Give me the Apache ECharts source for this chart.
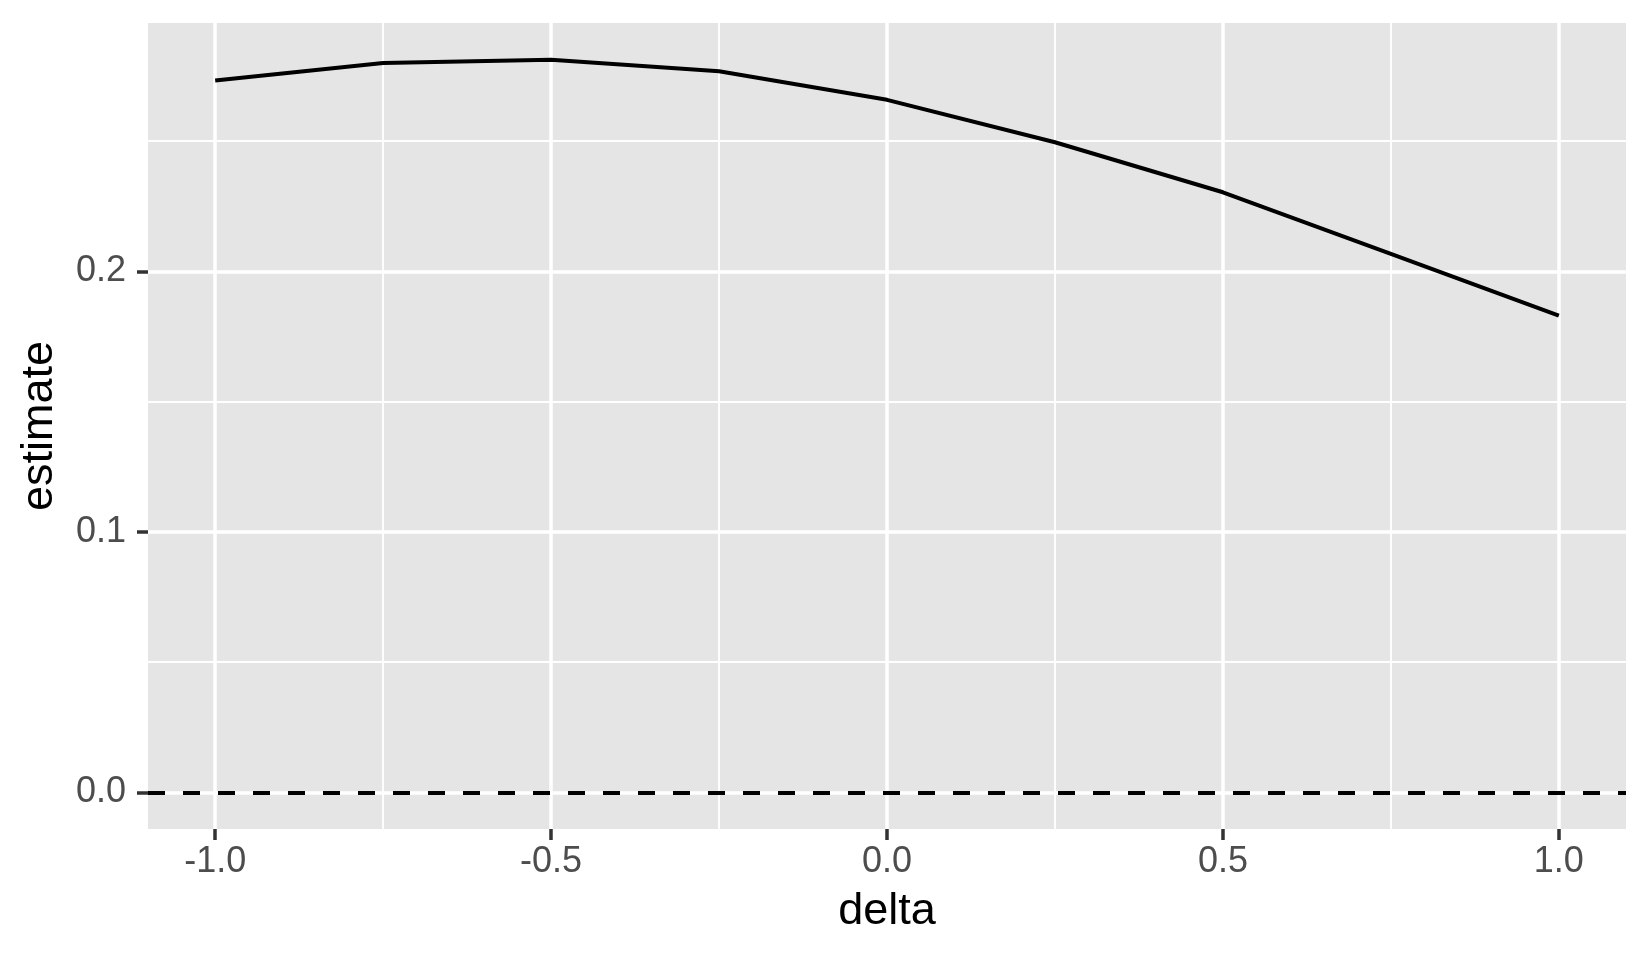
<!DOCTYPE html>
<html style="height: 100%">
    <head>
        <meta charset="utf-8">
    </head>
    <body style="height: 100%; margin: 0; background: #fff">
        <div id="container" style="width: 1650px; height: 960px"></div>

        <script type="text/javascript" src="https://cdn.jsdelivr.net/npm/echarts@6/dist/echarts.min.js"></script>
        <script type="text/javascript">

// data
var delta = [-1.0, -0.75, -0.5, -0.25, 0.0, 0.25, 0.5, 0.75, 1.0];
var estimate = [0.2733, 0.2800, 0.2813, 0.2769, 0.2659, 0.2496, 0.2304, 0.2068, 0.1830];

// axis ticks
var xMajor = [-1.0, -0.5, 0.0, 0.5, 1.0];
var xMinor = [-0.75, -0.25, 0.25, 0.75];
var yMajor = [0.0, 0.1, 0.2];
var yMinor = [0.05, 0.15, 0.25];

var dom = document.getElementById("container");
var myChart = echarts.init(dom);

var font = '"Liberation Sans", Arial, Helvetica, sans-serif';
var majorStyle = { color: '#ffffff', width: 3.5, type: 'solid' };
var minorStyle = { color: '#ffffff', width: 1.8, type: 'solid' };

var gridLines = []
    .concat(xMinor.map(v => ({ xAxis: v, lineStyle: minorStyle })))
    .concat(yMinor.map(v => ({ yAxis: v, lineStyle: minorStyle })))
    .concat(xMajor.map(v => ({ xAxis: v, lineStyle: majorStyle })))
    .concat(yMajor.map(v => ({ yAxis: v, lineStyle: majorStyle })));

var tickStyle = {
    show: true,
    length: 11,
    lineStyle: { color: '#333333', width: 3.5 }
};

var option = {
    animation: false,
    grid: {
        left: 148,
        top: 23,
        width: 1478,
        height: 806,
        show: true,
        backgroundColor: '#E5E5E5',
        borderWidth: 0
    },
    xAxis: {
        type: 'value',
        min: -1.1,
        max: 1.1,
        name: 'delta',
        nameLocation: 'middle',
        nameGap: 60,
        nameTextStyle: { fontFamily: font, fontSize: 45, color: '#000' },
        axisLine: { show: true, onZero: false, lineStyle: { color: '#E5E5E5', width: 0.01, opacity: 0 } },
        splitLine: { show: false },
        axisTick: Object.assign({ customValues: xMajor }, tickStyle),
        axisLabel: {
            customValues: xMajor,
            margin: 15,
            fontFamily: font,
            fontSize: 36,
            color: '#4D4D4D',
            formatter: v => v.toFixed(1)
        }
    },
    yAxis: {
        type: 'value',
        min: -0.01407,
        max: 0.2954,
        name: 'estimate',
        nameLocation: 'middle',
        nameGap: 86,
        nameRotate: 90,
        nameTextStyle: { fontFamily: font, fontSize: 45, color: '#000' },
        axisLine: { show: true, onZero: false, lineStyle: { color: '#E5E5E5', width: 0.01, opacity: 0 } },
        splitLine: { show: false },
        axisTick: Object.assign({ customValues: yMajor }, tickStyle),
        axisLabel: {
            customValues: yMajor,
            margin: 22,
            fontFamily: font,
            fontSize: 36,
            color: '#4D4D4D',
            formatter: v => v.toFixed(1)
        }
    },
    series: [
        {
            // panel grid lines
            type: 'line',
            data: [],
            silent: true,
            markLine: {
                silent: true,
                symbol: ['none', 'none'],
                label: { show: false },
                data: gridLines
            }
        },
        {
            // zero reference line
            type: 'line',
            data: [],
            zlevel: 1,
            silent: true,
            markLine: {
                silent: true,
                symbol: ['none', 'none'],
                label: { show: false },
                lineStyle: { color: '#000', width: 4, type: [17, 18] },
                data: [{ yAxis: 0 }]
            }
        },
        {
            type: 'line',
            zlevel: 1,
            symbol: 'none',
            lineStyle: { color: '#000', width: 4 },
            data: delta.map((d, i) => [d, estimate[i]])
        }
    ]
};

if (option && typeof option === 'object') {
    myChart.setOption(option);
}

        </script>
    </body>
</html>
